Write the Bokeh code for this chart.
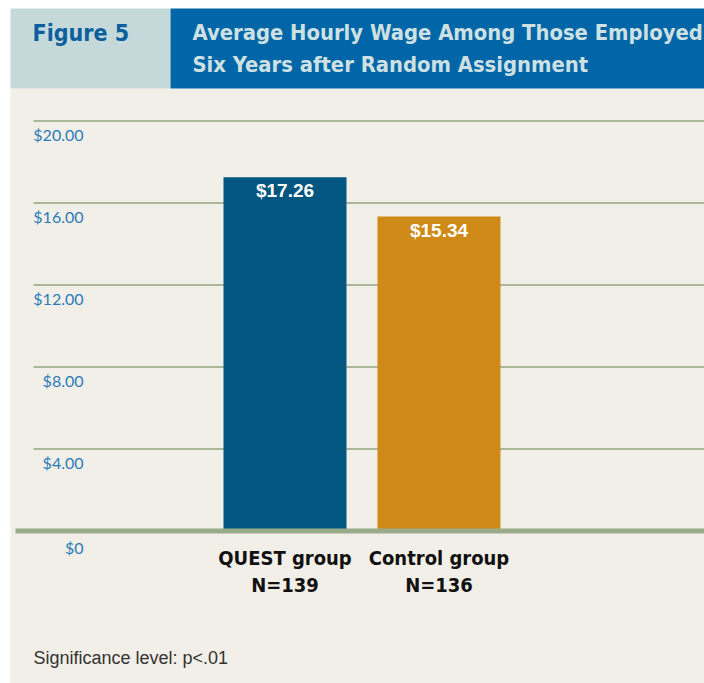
from bokeh.plotting import figure
from bokeh.models import Range1d, ColumnDataSource
from bokeh.core.properties import value
from bokeh.embed import file_html
from bokeh.resources import INLINE

# ---- data ----
categories = ["QUEST group", "Control group"]
sample_sizes = ["N=139", "N=136"]
wages = [17.26, 15.34]
value_labels = ["$17.26", "$15.34"]
bar_colors = ["#02567f", "#cf8a17"]
tick_values = [0, 4, 8, 12, 16, 20]
tick_labels = ["$0", "$4.00", "$8.00", "$12.00", "$16.00", "$20.00"]
figure_label = "Figure 5"
title_lines = ["Average Hourly Wage Among Those Employed",
               "Six Years after Random Assignment"]
note = "Significance level: p<.01"

# ---- layout helpers (picture pixels -> data) ----
W, H = 704, 683
XPX = 154.0          # pixels per category
YPX = 20.5           # pixels per dollar
CX0 = 284.5          # pixel centre of first category
ZY = 530.5           # pixel row of $0
X0 = -CX0 / XPX
X1 = (W - CX0) / XPX
Y_TOP = ZY / YPX
Y_BOT = -(H - ZY) / YPX


def px_x(px):
    return X0 + px / XPX


def px_y(py):
    return Y_TOP - py / YPX


COND = value("Liberation Sans Narrow, DejaVu Sans Condensed, Roboto")

p = figure(width=W, height=H, x_range=Range1d(X0, X1), y_range=Range1d(Y_BOT, Y_TOP),
           x_axis_location=None, y_axis_location=None, toolbar_location=None,
           output_backend="svg", min_border=0, outline_line_color=None,
           background_fill_color="white", border_fill_color="white")
p.grid.visible = False

# backgrounds
p.quad(left=[px_x(10)], right=[X1], top=[px_y(88)], bottom=[Y_BOT],
       fill_color="#f2efe8", line_color=None)
p.quad(left=[px_x(10)], right=[px_x(170)], top=[px_y(8)], bottom=[px_y(88)],
       fill_color="#c5d9db", line_color=None)
p.quad(left=[px_x(170)], right=[X1], top=[px_y(8)], bottom=[px_y(88)],
       fill_color="#0166a7", line_color=None)

# header texts
p.text(x=[px_x(32)], y=[px_y(32)], text=[figure_label], text_font=COND,
       text_font_style="bold", text_font_size="23px", text_color="#0b5f9c",
       text_baseline="middle", text_align="left")
p.text(x=[px_x(192)] * 2, y=[px_y(32), px_y(64)], text=title_lines, text_font=COND,
       text_font_style="bold", text_font_size="21.8px", text_color="#cfe0e3",
       text_baseline="middle", text_align="left")

# gridlines
grid_vals = tick_values[1:]
p.segment(x0=[px_x(33)] * len(grid_vals), x1=[X1] * len(grid_vals),
          y0=grid_vals, y1=grid_vals, line_color="#a9b89b", line_width=2)

# bars
xs = list(range(len(categories)))
src = ColumnDataSource(dict(x=xs, top=wages, color=bar_colors, lab=value_labels,
                            cat=categories, n=sample_sizes))
p.vbar(x="x", top="top", bottom=0, width=123 / XPX, fill_color="color",
       line_color=None, source=src)

# baseline
p.segment(x0=[px_x(15)], x1=[X1], y0=[0], y1=[0], line_color="#9aab8c", line_width=5)

# value labels
p.text(x="x", y="top", text="lab", source=src, text_align="center",
       text_baseline="top", y_offset=3, text_font=value("Liberation Sans"),
       text_font_style="bold", text_font_size="19px", text_color="white")

# tick labels
p.text(x=[px_x(83)] * len(grid_vals), y=grid_vals, text=tick_labels[1:],
       text_align="right", text_baseline="middle", y_offset=13,
       text_font=value("Lato"), text_font_size="16px", text_color="#2b7bb9")
p.text(x=[px_x(83)], y=tick_values[:1], text=tick_labels[:1],
       text_align="right", text_baseline="middle", y_offset=16,
       text_font=value("Lato"), text_font_size="16px", text_color="#2b7bb9")

# category labels
p.text(x="x", y=px_y(557), text="cat", source=src, text_align="center",
       text_baseline="middle", text_font=COND, text_font_style="bold",
       text_font_size="20px", text_color="#111111")
p.text(x="x", y=px_y(584), text="n", source=src, text_align="center",
       text_baseline="middle", text_font=COND, text_font_style="bold",
       text_font_size="20px", text_color="#111111")

# note
p.text(x=[px_x(33)], y=[px_y(657)], text=[note], text_align="left",
       text_baseline="middle", text_font=value("Liberation Sans"),
       text_font_size="18px", text_color="#333333")

open("out.html", "w").write(file_html(p, INLINE))
